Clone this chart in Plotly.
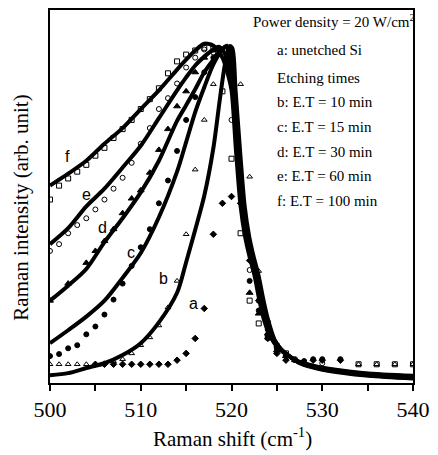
import plotly.graph_objects as go

# ---------------- data (Raman shift in cm^-1, intensity in arb. units) ----------------
# fitted curves
fit_f_x = [500, 502, 504, 506, 508, 510, 512, 514, 515, 516, 517, 518, 519, 519.6,
           520.0, 520.5, 521.0, 521.5, 522.0, 522.5, 523.1, 523.6, 524.3, 525.1, 526.0, 527.2, 529.1, 531.7, 534.7, 540]
fit_f_y = [0.580, 0.615, 0.653, 0.703, 0.749, 0.805, 0.860, 0.921, 0.950, 0.977, 0.997, 0.991, 0.956, 0.907,
           0.860, 0.680, 0.520, 0.430, 0.370, 0.320, 0.240, 0.184, 0.135, 0.105, 0.085, 0.065, 0.050, 0.038, 0.029, 0.021]

fit_e_x = [500, 502, 504, 506, 508, 510, 512, 514, 515, 516, 517, 518, 518.6, 519.2, 519.7,
           520.15, 520.65, 521.15, 521.65, 522.15, 522.65, 523.25, 523.75, 524.45, 525.25, 526.15, 527.35, 529.25, 531.85, 534.85, 540]
fit_e_y = [0.408, 0.455, 0.519, 0.571, 0.633, 0.697, 0.778, 0.860, 0.898, 0.933, 0.959, 0.980, 0.988, 0.971, 0.927,
           0.860, 0.680, 0.520, 0.430, 0.370, 0.320, 0.240, 0.184, 0.133, 0.103, 0.083, 0.063, 0.048, 0.036, 0.027, 0.019]

fit_d_x = [500, 502, 504, 506, 508, 510, 512, 514, 515, 516, 517, 518, 519, 519.4, 519.8,
           520.25, 520.75, 521.25, 521.75, 522.25, 522.75, 523.35, 523.85, 524.55, 525.35, 526.25, 527.45, 529.35, 531.95, 534.95, 540]
fit_d_y = [0.242, 0.286, 0.335, 0.414, 0.484, 0.560, 0.653, 0.770, 0.816, 0.863, 0.913, 0.950, 0.983, 0.988, 0.956,
           0.860, 0.680, 0.520, 0.430, 0.370, 0.320, 0.240, 0.184, 0.131, 0.101, 0.081, 0.061, 0.046, 0.034, 0.025, 0.017]

fit_c_x = [500, 502, 504, 506, 508, 510, 512, 514, 515, 516, 517, 518, 519, 519.5, 519.9,
           520.35, 520.85, 521.35, 521.85, 522.35, 522.85, 523.45, 523.95, 524.65, 525.45, 526.35, 527.55, 529.45, 532.05, 535.05, 540]
fit_c_y = [0.117, 0.155, 0.195, 0.242, 0.309, 0.382, 0.487, 0.621, 0.708, 0.796, 0.869, 0.936, 0.980, 0.991, 0.965,
           0.860, 0.680, 0.520, 0.430, 0.370, 0.320, 0.240, 0.184, 0.129, 0.099, 0.079, 0.059, 0.044, 0.032, 0.023, 0.015]

fit_b_x = [500, 502, 504, 506, 508, 510, 512, 514, 515, 516, 517, 518, 518.7, 519.3, 519.8, 520.1,
           520.45, 520.95, 521.45, 521.95, 522.45, 522.95, 523.55, 524.05, 524.75, 525.55, 526.45, 527.65, 529.55, 532.15, 535.15, 540]
fit_b_y = [0.023, 0.029, 0.044, 0.058, 0.082, 0.117, 0.178, 0.265, 0.355, 0.450, 0.550, 0.690, 0.830, 0.940, 0.990, 0.983,
           0.860, 0.680, 0.520, 0.430, 0.370, 0.320, 0.240, 0.184, 0.127, 0.097, 0.077, 0.057, 0.042, 0.030, 0.021, 0.013]

# measured spectra (markers)
pts_a_x = [505, 506, 507, 508, 509, 510, 511, 512, 513, 514, 515, 516, 517, 518, 519, 520, 521, 522, 523, 524, 525, 526, 529, 530, 532]
pts_a_y = [0.055, 0.055, 0.055, 0.055, 0.055, 0.055, 0.055, 0.055, 0.055, 0.067, 0.087, 0.131, 0.219, 0.437, 0.528, 0.548, 0.528,
           0.360, 0.242, 0.131, 0.087, 0.067, 0.067, 0.067, 0.067]

pts_b_x = [500, 501, 502, 503, 504, 505, 506, 507, 508, 509, 510, 511, 512, 513, 514, 515, 516, 517, 518,
           521, 522, 523, 524, 525, 526, 534, 536, 538, 540]
pts_b_y = [0.055, 0.055, 0.055, 0.055, 0.055, 0.055, 0.058, 0.064, 0.070, 0.087, 0.111, 0.134, 0.169, 0.222, 0.300, 0.437, 0.627, 0.773, 0.878,
           0.878, 0.606, 0.329, 0.184, 0.111, 0.082, 0.055, 0.055, 0.055, 0.055]

pts_c_x = [500, 501, 502, 503, 504, 505, 506, 507, 508, 509, 510, 511, 512, 513, 514, 515, 516, 517, 518,
           522, 523, 524, 525, 526, 527, 528, 529, 530, 532]
pts_c_y = [0.079, 0.085, 0.102, 0.111, 0.143, 0.166, 0.201, 0.245, 0.292, 0.344, 0.399, 0.452, 0.528, 0.595, 0.682, 0.773, 0.840, 0.913, 0.956,
           0.300, 0.213, 0.140, 0.102, 0.079, 0.067, 0.064, 0.070, 0.070, 0.070]

pts_d_x = [500, 502, 504, 505, 506, 507, 508, 509, 510, 511, 512, 513, 514, 515, 516, 517, 518,
           522, 523, 524, 525, 526, 527]
pts_d_y = [0.242, 0.292, 0.353, 0.388, 0.417, 0.452, 0.499, 0.542, 0.566, 0.618, 0.685, 0.746, 0.813, 0.857, 0.913, 0.956, 0.977,
           0.265, 0.204, 0.146, 0.096, 0.079, 0.067]

pts_e_x = [500, 501, 502, 503, 504, 505, 506, 507, 508, 509, 510, 511, 512, 513, 514, 515, 516, 517, 518,
           520, 522, 523, 524, 525, 526, 527, 528, 530]
pts_e_y = [0.388, 0.408, 0.440, 0.464, 0.484, 0.510, 0.539, 0.571, 0.603, 0.647, 0.703, 0.749, 0.805, 0.837, 0.880, 0.927, 0.956, 0.980, 0.971,
           0.773, 0.332, 0.242, 0.157, 0.111, 0.082, 0.070, 0.064, 0.058]

pts_f_x = [500, 501, 502, 503, 504, 505, 506, 507, 508, 509, 510, 511, 512, 513, 514, 515, 516, 517, 518,
           519, 520, 521, 522, 523, 524, 525, 526, 534, 536, 538, 540]
pts_f_y = [0.539, 0.580, 0.601, 0.621, 0.641, 0.668, 0.691, 0.720, 0.746, 0.773, 0.805, 0.834, 0.866, 0.910, 0.945, 0.965, 0.977, 0.985, 0.983,
           0.857, 0.659, 0.440, 0.242, 0.175, 0.134, 0.108, 0.087, 0.055, 0.055, 0.055, 0.055]

curve_labels = ["f", "e", "d", "c", "b", "a"]
curve_label_x = [501.9, 504.0, 505.8, 508.9, 512.5, 515.8]
curve_label_y = [0.665, 0.554, 0.458, 0.382, 0.306, 0.233]

legend_lines = ["Power density = 20 W/cm<sup>2</sup>", "a: unetched Si", "Etching times",
                "b: E.T = 10 min", "c: E.T = 15 min", "d: E.T = 30 min", "e: E.T = 60 min", "f: E.T = 100 min"]

x_ticks = [500, 510, 520, 530, 540]

# ---------------- figure ----------------
fig = go.Figure()

for fx, fy in [(fit_f_x, fit_f_y), (fit_e_x, fit_e_y), (fit_d_x, fit_d_y),
               (fit_c_x, fit_c_y), (fit_b_x, fit_b_y)]:
    fig.add_trace(go.Scatter(x=fx, y=fy, mode="lines",
                             line=dict(color="black", width=4, shape="spline", smoothing=0.8),
                             showlegend=False, hoverinfo="skip"))

marker_specs = [
    (pts_a_x, pts_a_y, "diamond", 5),
    (pts_b_x, pts_b_y, "triangle-up-open", 5),
    (pts_c_x, pts_c_y, "circle", 5),
    (pts_d_x, pts_d_y, "triangle-up", 6),
    (pts_e_x, pts_e_y, "circle-open", 5),
    (pts_f_x, pts_f_y, "square-open", 5),
]
for mx, my, sym, sz in marker_specs:
    fig.add_trace(go.Scatter(x=mx, y=my, mode="markers",
                             marker=dict(symbol=sym, size=sz, color="black",
                                         line=dict(color="black", width=1)),
                             showlegend=False))

for lab, lx, ly in zip(curve_labels, curve_label_x, curve_label_y):
    fig.add_annotation(x=lx, y=ly, text=lab, showarrow=False,
                       font=dict(family="Liberation Sans, Arial", size=16, color="black"))

legend_y = [0.971, 0.894, 0.819, 0.753, 0.686, 0.620, 0.556, 0.489]
legend_x = [0.554, 0.620, 0.620, 0.620, 0.620, 0.620, 0.620, 0.620]
for txt, ly, lx in zip(legend_lines, legend_y, legend_x):
    fig.add_annotation(xref="paper", yref="paper", x=lx, y=ly, text=txt, showarrow=False,
                       xanchor="left", yanchor="middle",
                       font=dict(family="Liberation Serif, Times New Roman", size=15, color="black"))

# axis titles
fig.add_annotation(xref="paper", yref="paper", x=0.503, y=-0.145, text="Raman shift (cm<sup>-1</sup>)",
                   showarrow=False, xanchor="center", yanchor="middle",
                   font=dict(family="Liberation Serif, Times New Roman", size=21, color="black"))
fig.add_annotation(xref="paper", yref="paper", x=-0.08, y=0.47, text="Raman intensity (arb. unit)",
                   showarrow=False, textangle=-90, xanchor="center", yanchor="middle",
                   font=dict(family="Liberation Serif, Times New Roman", size=21, color="black"))

# the page adds an 8 px body margin, so the figure is sized to fit inside the window
fig.update_layout(
    width=430, height=447,
    margin=dict(l=42, r=25, t=0, b=72),
    paper_bgcolor="white", plot_bgcolor="white",
    showlegend=False,
)
fig.update_xaxes(range=[500, 540], tickvals=x_ticks, ticks="outside", ticklen=6, tickwidth=1.5,
                 tickcolor="black", showline=True, linecolor="black", linewidth=2, mirror=True,
                 showgrid=False, zeroline=False,
                 minor=dict(dtick=5, ticks="outside", ticklen=6, tickwidth=1.5, tickcolor="black", showgrid=False),
                 tickfont=dict(family="Liberation Serif, Times New Roman", size=22, color="black"))
fig.update_yaxes(range=[0, 1.096], showticklabels=False, ticks="", showline=True, linecolor="black",
                 linewidth=2, mirror=True, showgrid=False, zeroline=False)

fig.write_html("out.html")
